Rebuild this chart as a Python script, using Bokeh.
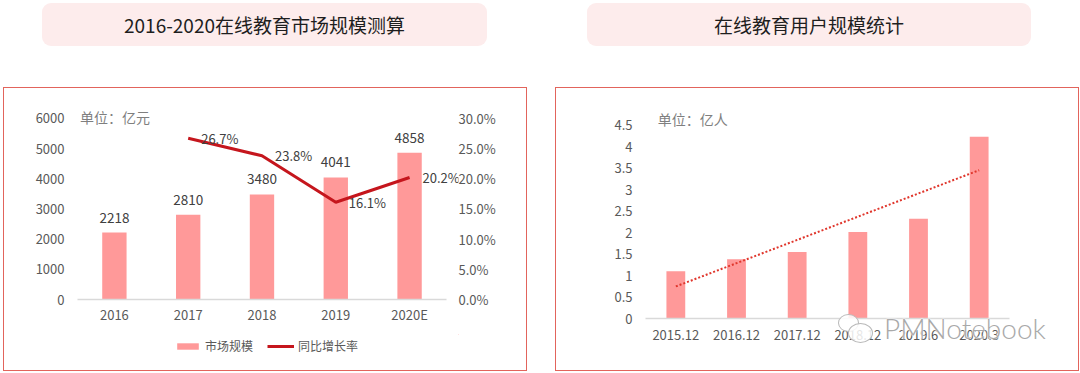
import numpy as np
from bokeh.plotting import figure
from bokeh.models import (ColumnDataSource, FactorRange, Range1d, LinearAxis, Legend,
                          LegendItem, Label, LabelSet, Div, FixedTicker,
                          NumeralTickFormatter, CustomJSTickFormatter)
from bokeh.layouts import row, column
from bokeh.embed import file_html
from bokeh.resources import INLINE
from bokeh.core.properties import value

# ---------------- data ----------------
years = ["2016", "2017", "2018", "2019", "2020E"]
market = [2218, 2810, 3480, 4041, 4858]
growth_years = ["2017", "2018", "2019", "2020E"]
growth = [26.7, 23.8, 16.1, 20.2]
left_ticks = [0, 1000, 2000, 3000, 4000, 5000, 6000]
right_ticks = [0.0, 0.05, 0.10, 0.15, 0.20, 0.25, 0.30]

user_periods = ["2015.12", "2016.12", "2017.12", "2018.12", "2019.6", "2020.3"]
users = [1.10, 1.38, 1.55, 2.01, 2.32, 4.23]
user_ticks = [0, 0.5, 1, 1.5, 2, 2.5, 3, 3.5, 4, 4.5]

title_left = "2016-2020在线教育市场规模测算"
title_right = "在线教育用户规模统计"
unit_left = "单位：亿元"
unit_right = "单位：亿人"
legend_bar = "市场规模"
legend_line = "同比增长率"
watermark = "PMNotebook"

FONT = "Noto Sans CJK SC"
TICK_COLOR = "#595959"
BAR_COLOR = "#ff9999"
LINE_COLOR = "#c5161d"
BOX_COLOR = "#e2645c"
BORDER = "1px solid " + BOX_COLOR


def banner(text, w, ml):
    html = ('<div style="width:' + str(w) + 'px;height:43px;line-height:43px;background:#fdecec;'
            'border-radius:9px;text-align:center;font-family:\'' + FONT + '\';font-size:19px;'
            'color:#1e1e1e;">' + text + '</div>')
    return Div(text=html, width=w, height=43, margin=(3, 0, 0, ml))


def style_axis(ax, standoff):
    ax.axis_line_color = None
    ax.major_tick_line_color = None
    ax.minor_tick_line_color = None
    ax.major_tick_out = 0
    ax.major_tick_in = 0
    ax.minor_tick_out = 0
    ax.minor_tick_in = 0
    ax.major_label_text_font = FONT
    ax.major_label_text_font_size = "13px"
    ax.major_label_text_color = TICK_COLOR
    ax.major_label_standoff = standoff


# ---------------- left chart ----------------
xi = list(range(len(years)))
gi = [years.index(y) for y in growth_years]
src1 = ColumnDataSource(dict(x=xi, top=market, lbl=[str(v) for v in market]))
src1g = ColumnDataSource(dict(x=gi, g=[v / 100 for v in growth],
                              lbl=["%.1f%%" % v for v in growth]))

Y1_END = 6326
p1 = figure(x_range=Range1d(-0.5, len(years) - 0.5 + 0.163), y_range=Range1d(0, Y1_END),
            width=524, height=247, output_backend="svg", toolbar_location=None,
            min_border_left=73, min_border_right=70, min_border_top=20,
            min_border_bottom=36, margin=(41, 0, 0, 3))
p1.styles = {"border": BORDER, "border-bottom": "none"}
p1.outline_line_color = None
p1.grid.grid_line_color = None
p1.extra_y_ranges = {"pct": Range1d(0, 0.30 * Y1_END / 6000)}

style_axis(p1.yaxis[0], 13)
p1.yaxis[0].ticker = FixedTicker(ticks=left_ticks)
style_axis(p1.xaxis[0], 5)
p1.xaxis[0].ticker = FixedTicker(ticks=xi)
p1.xaxis[0].formatter = CustomJSTickFormatter(args=dict(labels=years),
                                              code="return labels[Math.round(tick)] || '';")
p1.xaxis[0].axis_line_color = "#d9d9d9"
p1.xaxis[0].axis_line_width = 1.5
p1.xaxis[0].bounds = (-0.5, len(years) - 0.5)

ax_r = LinearAxis(y_range_name="pct", ticker=FixedTicker(ticks=right_ticks),
                  formatter=NumeralTickFormatter(format="0.0%"))
style_axis(ax_r, 0)
p1.add_layout(ax_r, "right")

p1.vbar(x="x", top="top", width=0.33, source=src1, fill_color=BAR_COLOR, line_color=None)
p1.line(x="x", y="g", source=src1g, y_range_name="pct", line_color=LINE_COLOR, line_width=3)

p1.add_layout(LabelSet(x="x", y="top", text="lbl", source=src1, text_align="center",
                       text_baseline="alphabetic", y_offset=10, text_font=value(FONT),
                       text_font_size="13.5px", text_color="#404040"))
p1.add_layout(LabelSet(x="x", y="g", text="lbl", source=src1g, y_range_name="pct",
                       text_align="left", text_baseline="middle", x_offset=13,
                       text_font=value(FONT), text_font_size="13px", text_color="#404040"))
p1.add_layout(Label(x=-0.466, y=6000, y_offset=1, text=unit_left, text_baseline="middle",
                    text_font=FONT, text_font_size="14px", text_color="#7f7f7f"))

# legend strip (bottom part of the left box); its renderers lie outside its ranges
pl = figure(width=524, height=37, x_range=Range1d(-20, -19), y_range=Range1d(-2, -1),
            output_backend="svg", toolbar_location=None, min_border=0,
            x_axis_location=None, y_axis_location=None, margin=(0, 0, 0, 3))
pl.styles = {"border": BORDER, "border-top": "none"}
pl.outline_line_color = None
pl.grid.visible = False
lb = pl.vbar(x="x", top="top", width=0.33, source=src1, fill_color=BAR_COLOR, line_color=None)
ll = pl.line(x="x", y="g", source=src1g, line_color=LINE_COLOR, line_width=3)
leg = Legend(items=[LegendItem(label=legend_bar, renderers=[lb]),
                    LegendItem(label=legend_line, renderers=[ll])],
             orientation="horizontal", location=(97, 17), glyph_width=27, glyph_height=8,
             label_standoff=4, spacing=14, padding=0, margin=0, border_line_color=None,
             background_fill_alpha=0, label_text_font=FONT, label_text_font_size="12px",
             label_text_color=TICK_COLOR)
pl.add_layout(leg)

# ---------------- right chart ----------------
xs = np.arange(1, len(users) + 1)
coef = np.polyfit(xs, users, 1)
trend = np.polyval(coef, xs)
src2 = ColumnDataSource(dict(x=user_periods, top=users, trend=trend))

p2 = figure(x_range=FactorRange(*user_periods, range_padding=0), y_range=Range1d(0, 4.886),
            width=524, height=284, output_backend="svg", toolbar_location=None,
            min_border_left=89, min_border_right=71, min_border_top=20,
            min_border_bottom=54, margin=(41, 0, 0, 0))
p2.styles = {"border": BORDER}
p2.outline_line_color = None
p2.grid.grid_line_color = None

style_axis(p2.yaxis[0], 13)
p2.yaxis[0].ticker = FixedTicker(ticks=user_ticks)
p2.yaxis[0].formatter = CustomJSTickFormatter(code="return tick.toString();")
style_axis(p2.xaxis[0], 11)
p2.xaxis[0].axis_line_color = "#d9d9d9"
p2.xaxis[0].axis_line_width = 1.5

p2.vbar(x="x", top="top", width=0.31, source=src2, fill_color=BAR_COLOR, line_color=None)
p2.line(x="x", y="trend", source=src2, line_color="#e0362c", line_width=2, line_dash="2 2")

p2.add_layout(Label(x=0.2, y=4.5, y_offset=6, text=unit_right, text_baseline="middle",
                    text_font=FONT, text_font_size="14px", text_color="#7f7f7f"))

wm_html = (
    '<div style="position:relative;width:240px;height:32px;">'
    '<div style="position:absolute;left:1px;top:2px;width:21px;height:18px;'
    'border:1.5px solid #b8b8b8;border-radius:50%;background:rgba(255,255,255,0.85);"></div>'
    '<div style="position:absolute;left:11px;top:11px;width:25px;height:20px;'
    'border:1.5px solid #b8b8b8;border-radius:50%;background:rgba(255,255,255,0.85);"></div>'
    '<span style="position:absolute;left:47px;top:0px;font-family:Lato;font-weight:300;'
    'font-size:28px;line-height:32px;color:#a9a9a9;text-shadow:0 0 2px #fff,0 0 2px #fff;'
    'white-space:nowrap;">' + watermark + '</span></div>')
wm = Div(text=wm_html, width=240, height=1, margin=(-1, 0, 0, 0),
         styles={"position": "relative", "left": "282px", "top": "-58px",
                 "overflow": "visible", "z-index": "5"})

# ---------------- layout ----------------
left = column(banner(title_left, 445, 42), p1, pl, spacing=0)
right = column(banner(title_right, 444, 32), p2, wm, spacing=0)
page = row(left, right, spacing=28)

open("out.html", "w").write(file_html(page, INLINE))
